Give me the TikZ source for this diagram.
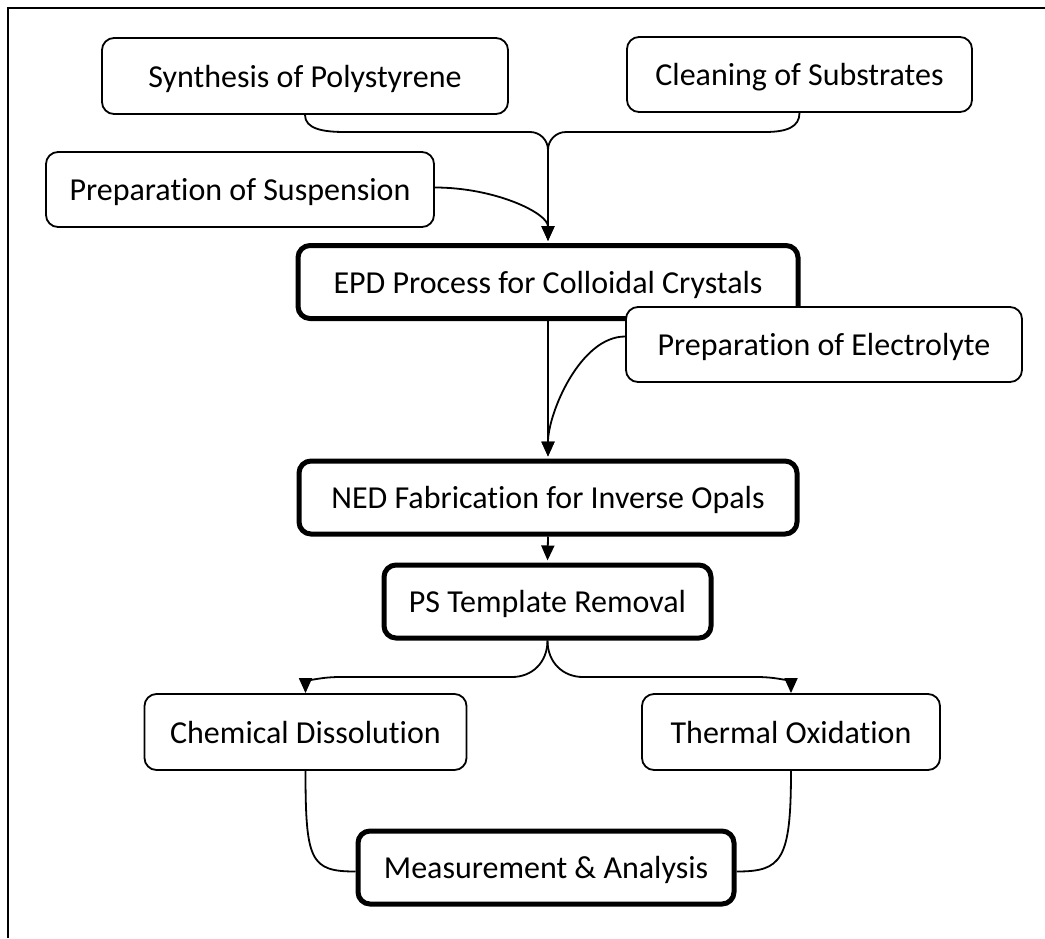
\documentclass[tikz,border=0pt]{standalone}
\usepackage{fontspec}
\setmainfont{Carlito}[Ligatures=NoCommon,RawFeature={-calt;-dlig}]
\usetikzlibrary{arrows.meta}
\newcommand{\nl}{\kern0pt }
\begin{document}
\begin{tikzpicture}[x=1pt,y=-1pt,
  box/.style={draw, line width=1.8pt, rounded corners=12pt, fill=white, align=center, inner sep=0pt,
    text height=22pt, text depth=0pt, font=\fontsize{32}{38}\selectfont},
  bbox/.style={box, line width=5pt},
  conn/.style={line width=1.8pt},
  arr/.style={conn, -{Triangle[length=15pt,width=13pt]}},
  arrb/.style={arr, shorten >=2pt}]
\useasboundingbox (0,0) rectangle (1045,938);
\draw[line width=2pt] (8,938) -- (8,8) -- (1045,8);

\node[box, minimum width=406pt, minimum height=76pt] (syn) at (305,76) {Synthesis of Polystyrene};
\node[box, minimum width=345pt, minimum height=75pt] (cle) at (799.5,74.5) {Cleaning of Substrates};
\node[box, minimum width=388pt, minimum height=75pt] (sus) at (240,189.5) {Preparat\nl ion of Suspension};
\node[bbox, minimum width=500pt, minimum height=73pt] (epd) at (548,282) {EPD Process for Colloidal Crystals};
\node[box, minimum width=396pt, minimum height=75pt] (ele) at (824,344.5) {Preparat\nl ion of Electrolyte};
\node[bbox, minimum width=498pt, minimum height=73pt] (ned) at (548,497.5) {NED Fabricat\nl ion for Inverse Opals};
\node[bbox, minimum width=327pt, minimum height=73pt] (pst) at (547.5,601.5) {PS Template Removal};
\node[box, minimum width=322pt, minimum height=76pt] (che) at (305.5,732) {Chemical Dissolut\nl ion};
\node[box, minimum width=298pt, minimum height=76pt] (the) at (791,732) {Thermal Oxidat\nl ion};
\node[bbox, minimum width=376pt, minimum height=73pt] (mea) at (546,867.5) {Measurement \& Analysis};

\coordinate (j) at (548,150);

\draw[conn] (syn.south) .. controls +(0,14) and +(-22,0) .. (345,132) -- (530,132)
  .. controls +(10,0) and +(0,-10) .. (j);
\draw[conn] (cle.south) .. controls +(0,14) and +(22,0) .. (765,132) -- (566,132)
  .. controls +(-10,0) and +(0,-10) .. (j);
\draw[arrb] (j) -- (epd.north);
\draw[arrb] ([yshift=2pt]sus.east) .. controls +(60,0) and +(0,-30) .. (epd.north);

\draw[arrb] (epd.south) -- (ned.north);
\draw[arrb] ([yshift=8pt]ele.west) .. controls +(-45,0) and +(0,-45) .. (ned.north);
\draw[arrb] (ned.south) -- (pst.north);

\draw[arr] (pst.south) .. controls +(0,22) and +(20,0) .. (512,677) -- (340,677)
  .. controls +(-24,0) and +(0,-10) .. (che.north);
\draw[arr] (pst.south) .. controls +(0,22) and +(-20,0) .. (583,677) -- (757,677)
  .. controls +(24,0) and +(0,-10) .. (the.north);

\draw[conn] (che.south) .. controls +(0,90) and +(-45,0) .. ([yshift=-4pt]mea.west);
\draw[conn] (the.south) .. controls +(0,90) and +(45,0) .. ([yshift=-4pt]mea.east);
\end{tikzpicture}
\end{document}
